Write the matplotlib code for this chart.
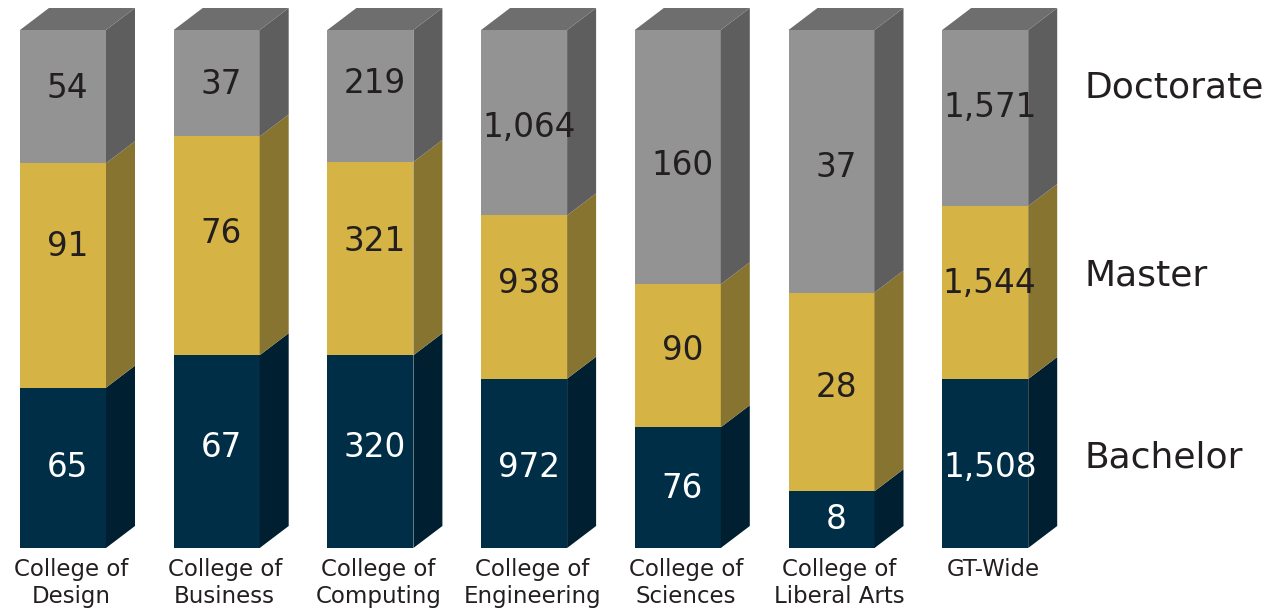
import numpy as np
import matplotlib.pyplot as plt
from matplotlib.patches import Polygon

colleges = ['College of\nDesign', 'College of\nBusiness', 'College of\nComputing',
            'College of\nEngineering', 'College of\nSciences', 'College of\nLiberal Arts',
            'GT-Wide']
bachelor = [65, 67, 320, 972, 76, 8, 1508]
master = [91, 76, 321, 938, 90, 28, 1544]
doctorate = [54, 37, 219, 1064, 160, 37, 1571]
degrees = ['Bachelor', 'Master', 'Doctorate']

# hand placement of the value labels in the original (pixel shift from segment centre)
nudge = [[0, -4, -4, 4, 1, 0, 4],
         [-29, -12, -17, -14, -5, -4, -9],
         [-8, 1, -12, 5, 8, 6, -11]]

front = ['#002e47', '#d5b445', '#939393']
side = ['#001f30', '#887431', '#5e5e5e']
top_col = '#6e6e6e'
txt_col = ['white', '#231f20', '#231f20']

plt.rcParams['font.family'] = ['DejaVu Sans']

W, H = 1287, 613
fig = plt.figure(figsize=(W / 100, H / 100), dpi=100)
pitch = 153.7
x0 = 63
ax = fig.add_axes([0, 1 - 548 / H, 1, (548 - 30) / H])
ax.set_xlim(-x0 / pitch, (W - x0) / pitch)
ax.set_ylim(0, 100)
ax.axis('off')

data = np.array([bachelor, master, doctorate], dtype=float)
pct = data / data.sum(axis=0) * 100
width = 86 / pitch
dx = 29 / pitch
px_y = 100 / 518
dy = 22 * px_y

x = np.arange(len(colleges))
bottom = np.zeros(len(colleges))
for k in range(3):
    ax.bar(x, pct[k], width, bottom=bottom, color=front[k], linewidth=0)
    for i in range(len(colleges)):
        xr = x[i] + width / 2
        y0, y1 = bottom[i], bottom[i] + pct[k][i]
        ax.add_patch(Polygon([(xr, y0), (xr + dx, y0 + dy), (xr + dx, y1 + dy), (xr, y1)],
                             closed=True, color=side[k], linewidth=0, clip_on=False))
        ax.text(x[i] + 0.03, (y0 + y1) / 2 - nudge[k][i] * px_y, f'{int(data[k][i]):,}',
                ha='center', va='center', fontsize=23.5, color=txt_col[k])
    bottom += pct[k]

for i in range(len(colleges)):
    xl, xr = x[i] - width / 2, x[i] + width / 2
    ax.add_patch(Polygon([(xl, 100), (xl + dx, 100 + dy), (xr + dx, 100 + dy), (xr, 100)],
                         closed=True, color=top_col, linewidth=0, clip_on=False))
    fig.text((x0 + 8 + pitch * i) / W, 1 - 558 / H, colleges[i], ha='center', va='top',
             fontsize=16.5, color='#231f20', linespacing=1.2)

for name, yp in zip(degrees, [458, 275, 88]):
    fig.text(1085 / W, 1 - yp / H, name, ha='left', va='center', fontsize=26, color='#231f20')

fig.savefig('out.png', dpi=100)
